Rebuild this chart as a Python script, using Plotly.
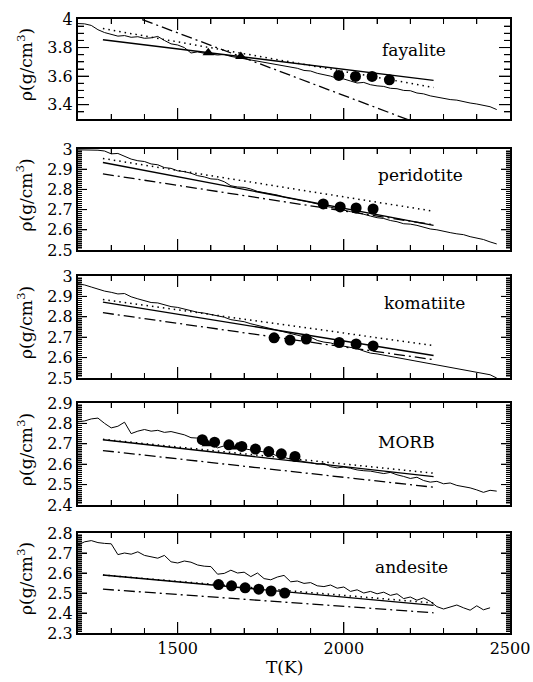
import plotly.graph_objects as go

# ---------------- data ----------------
T_MD = [1200, 1220, 1240, 1260, 1280, 1300, 1320, 1340, 1360, 1380,
        1400, 1420, 1440, 1460, 1480, 1500, 1520, 1540, 1560, 1580,
        1600, 1620, 1640, 1660, 1680, 1700, 1720, 1740, 1760, 1780,
        1800, 1820, 1840, 1860, 1880, 1900, 1920, 1940, 1960, 1980,
        2000, 2020, 2040, 2060, 2080, 2100, 2120, 2140, 2160, 2180,
        2200, 2220, 2240, 2260, 2280, 2300, 2320, 2340, 2360, 2380,
        2400, 2420, 2440, 2460]
T_MD_andesite = T_MD[:63]

md_fayalite = [3.968, 3.966, 3.955, 3.925, 3.905, 3.892, 3.880, 3.884, 3.872, 3.876,
               3.865, 3.868, 3.878, 3.850, 3.826, 3.818, 3.800, 3.762, 3.770, 3.760,
               3.755, 3.748, 3.752, 3.738, 3.730, 3.722, 3.715, 3.705, 3.698, 3.688,
               3.684, 3.672, 3.668, 3.655, 3.640, 3.636, 3.620, 3.612, 3.600, 3.585,
               3.580, 3.566, 3.552, 3.556, 3.540, 3.532, 3.528, 3.515, 3.512, 3.500,
               3.498, 3.482, 3.476, 3.462, 3.452, 3.445, 3.436, 3.432, 3.420, 3.412,
               3.405, 3.398, 3.386, 3.366]
md_peridotite = [2.996, 2.996, 2.996, 2.994, 2.990, 2.976, 2.978, 2.962, 2.950, 2.942,
                 2.938, 2.926, 2.922, 2.908, 2.904, 2.892, 2.888, 2.880, 2.868, 2.862,
                 2.852, 2.850, 2.838, 2.818, 2.812, 2.810, 2.802, 2.790, 2.784, 2.776,
                 2.772, 2.762, 2.756, 2.750, 2.742, 2.736, 2.728, 2.718, 2.712, 2.704,
                 2.698, 2.690, 2.686, 2.676, 2.668, 2.660, 2.656, 2.646, 2.640, 2.630,
                 2.628, 2.622, 2.612, 2.604, 2.600, 2.592, 2.586, 2.580, 2.576, 2.566,
                 2.560, 2.552, 2.540, 2.530]
md_komatiite = [2.962, 2.956, 2.946, 2.935, 2.926, 2.920, 2.912, 2.914, 2.898, 2.888,
                2.880, 2.870, 2.868, 2.858, 2.850, 2.846, 2.838, 2.832, 2.822, 2.818,
                2.812, 2.806, 2.798, 2.786, 2.780, 2.776, 2.766, 2.758, 2.748, 2.740,
                2.732, 2.726, 2.718, 2.710, 2.702, 2.700, 2.684, 2.676, 2.672, 2.662,
                2.656, 2.650, 2.644, 2.632, 2.622, 2.618, 2.612, 2.606, 2.602, 2.596,
                2.590, 2.584, 2.578, 2.572, 2.566, 2.558, 2.554, 2.548, 2.540, 2.534,
                2.528, 2.522, 2.516, 2.500]
md_morb = [2.808, 2.812, 2.822, 2.826, 2.800, 2.778, 2.786, 2.806, 2.750, 2.762,
           2.770, 2.762, 2.766, 2.756, 2.760, 2.752, 2.744, 2.730, 2.728, 2.726,
           2.700, 2.680, 2.690, 2.686, 2.688, 2.676, 2.670, 2.666, 2.660, 2.654,
           2.640, 2.634, 2.624, 2.620, 2.612, 2.608, 2.600, 2.604, 2.588, 2.582,
           2.586, 2.580, 2.572, 2.568, 2.566, 2.560, 2.554, 2.560, 2.548, 2.540,
           2.530, 2.536, 2.520, 2.512, 2.516, 2.504, 2.508, 2.496, 2.490, 2.484,
           2.474, 2.462, 2.472, 2.468]
md_andesite = [2.740, 2.756, 2.762, 2.752, 2.748, 2.746, 2.692, 2.700, 2.694, 2.706,
               2.688, 2.680, 2.674, 2.688, 2.656, 2.650, 2.660, 2.654, 2.640, 2.634,
               2.632, 2.594, 2.598, 2.614, 2.600, 2.604, 2.582, 2.600, 2.572, 2.566,
               2.580, 2.588, 2.556, 2.560, 2.548, 2.552, 2.536, 2.532, 2.540, 2.524,
               2.530, 2.508, 2.516, 2.500, 2.508, 2.496, 2.504, 2.488, 2.496, 2.472,
               2.480, 2.464, 2.476, 2.458, 2.432, 2.420, 2.430, 2.440, 2.426, 2.414,
               2.436, 2.416, 2.426]

# straight model lines (start, end)
T_LINE = [1275, 2270]
solid_fayalite = [3.855, 3.570]
dotted_fayalite = [3.933, 3.521]
dashdot_fayalite = [4.100, 3.228]
solid_peridotite = [2.933, 2.622]
dotted_peridotite = [2.953, 2.692]
dashdot_peridotite = [2.877, 2.625]
solid_komatiite = [2.872, 2.610]
dotted_komatiite = [2.885, 2.659]
dashdot_komatiite = [2.820, 2.590]
solid_morb = [2.720, 2.539]
dotted_morb = [2.722, 2.556]
dashdot_morb = [2.667, 2.487]
solid_andesite = [2.590, 2.438]
dotted_andesite = [2.590, 2.450]
dashdot_andesite = [2.519, 2.401]

# experimental points (circles)
exp_T_fayalite = [1985, 2035, 2085, 2137]
exp_rho_fayalite = [3.605, 3.598, 3.598, 3.574]
exp_T_peridotite = [1938, 1989, 2037, 2088]
exp_rho_peridotite = [2.728, 2.713, 2.708, 2.703]
exp_T_komatiite = [1790, 1838, 1887, 1986, 2037, 2088]
exp_rho_komatiite = [2.697, 2.686, 2.691, 2.674, 2.667, 2.657]
exp_T_morb = [1574, 1611, 1654, 1693, 1734, 1774, 1812, 1853]
exp_rho_morb = [2.720, 2.708, 2.695, 2.687, 2.674, 2.662, 2.651, 2.638]
exp_T_andesite = [1623, 1662, 1703, 1744, 1781, 1822]
exp_rho_andesite = [2.542, 2.536, 2.526, 2.519, 2.510, 2.500]

# triangles
tri_T_fayalite = [1592, 1690]
tri_rho_fayalite = [3.763, 3.737]
tri_T_morb = [1589, 1679]
tri_rho_morb = [2.700, 2.684]

names = ["fayalite", "peridotite", "komatiite", "MORB", "andesite"]
y_ranges = [[3.3, 4.0], [2.5, 3.0], [2.5, 3.0], [2.4, 2.9], [2.3, 2.8]]
label_pos = [(2211, 3.78), (2230, 2.869), (2242, 2.867), (2190, 2.711), (2205, 2.632)]

# ---------------- figure ----------------
W, H = 533, 682
PX_LEFT, PX_RIGHT = 78, 510
panel_px = [(19, 119), (149, 250), (276, 378), (403, 505), (533, 633)]

FONT = "DejaVu Serif"
fig = go.Figure()

panels = [
    (T_MD, md_fayalite, solid_fayalite, dotted_fayalite, dashdot_fayalite,
     exp_T_fayalite, exp_rho_fayalite, tri_T_fayalite, tri_rho_fayalite),
    (T_MD, md_peridotite, solid_peridotite, dotted_peridotite, dashdot_peridotite,
     exp_T_peridotite, exp_rho_peridotite, None, None),
    (T_MD, md_komatiite, solid_komatiite, dotted_komatiite, dashdot_komatiite,
     exp_T_komatiite, exp_rho_komatiite, None, None),
    (T_MD, md_morb, solid_morb, dotted_morb, dashdot_morb,
     exp_T_morb, exp_rho_morb, tri_T_morb, tri_rho_morb),
    (T_MD_andesite, md_andesite, solid_andesite, dotted_andesite, dashdot_andesite,
     exp_T_andesite, exp_rho_andesite, None, None),
]

shapes = []
tick_line = dict(color="black", width=1)

for i, (tmd, md, sol, dot, dd, eT, eR, tT, tR) in enumerate(panels):
    k = "" if i == 0 else str(i + 1)
    xa, ya = "x" + k, "y" + k
    fig.add_trace(go.Scatter(x=tmd, y=md, mode="lines", xaxis=xa, yaxis=ya,
                             line=dict(color="black", width=1), showlegend=False))
    fig.add_trace(go.Scatter(x=T_LINE, y=sol, mode="lines", xaxis=xa, yaxis=ya,
                             line=dict(color="black", width=1.4), showlegend=False))
    fig.add_trace(go.Scatter(x=T_LINE, y=dot, mode="lines", xaxis=xa, yaxis=ya,
                             line=dict(color="black", width=1.5, dash="1.5px,4px"),
                             showlegend=False))
    fig.add_trace(go.Scatter(x=T_LINE, y=dd, mode="lines", xaxis=xa, yaxis=ya,
                             line=dict(color="black", width=1.3, dash="11px,4px,2px,4px"),
                             showlegend=False))
    fig.add_trace(go.Scatter(x=eT, y=eR, mode="markers", xaxis=xa, yaxis=ya,
                             marker=dict(color="black", size=11, symbol="circle"),
                             showlegend=False))
    if tT is not None:
        fig.add_trace(go.Scatter(x=tT, y=tR, mode="markers", xaxis=xa, yaxis=ya,
                                 marker=dict(color="black", size=10, symbol="triangle-up"),
                                 showlegend=False))

    top, bot = panel_px[i]
    ph = bot - top
    pw = PX_RIGHT - PX_LEFT
    fine = i > 0
    y_major_len = 9 if fine else 11
    y_minor_len = 4 if fine else 6

    fig.layout["xaxis" + k] = dict(
        domain=[PX_LEFT / W, PX_RIGHT / W], range=[1200, 2500], anchor=ya,
        automargin=False, dtick=500, tick0=0,
        ticks="inside", ticklen=11, tickwidth=1, tickcolor="black",
        showticklabels=(i == 4), showline=True, linecolor="black", linewidth=2,
        mirror="ticks", showgrid=False, zeroline=False,
        minor=dict(dtick=100, tick0=0, ticks="inside", ticklen=5,
                   tickwidth=1, tickcolor="black", showgrid=False),
        tickfont=dict(family=FONT, size=16, color="black"))
    fig.layout["yaxis" + k] = dict(
        domain=[1 - bot / H, 1 - top / H], range=y_ranges[i], anchor=xa,
        automargin=False, dtick=(0.1 if fine else 0.2), tick0=0,
        ticks="inside", ticklen=y_major_len, tickwidth=1, tickcolor="black",
        showline=True, linecolor="black", linewidth=2, mirror="ticks",
        showgrid=False, zeroline=False,
        minor=dict(dtick=(0.01 if fine else 0.05), tick0=0,
                   ticks="inside", ticklen=y_minor_len, tickwidth=1,
                   tickcolor="black", showgrid=False),
        tickfont=dict(family=FONT, size=16, color="black"))

    # tick marks on all four sides, placed through the axes' own scales
    for j in range(1, 13):
        tv = 1200 + 100 * j
        frac = (11 if tv % 500 == 0 else 5) / ph
        shapes.append(dict(type="line", xref=xa, yref=ya + " domain",
                           x0=tv, x1=tv, y0=0, y1=frac, line=tick_line))
        shapes.append(dict(type="line", xref=xa, yref=ya + " domain",
                           x0=tv, x1=tv, y0=1 - frac, y1=1, line=tick_line))
    lo = y_ranges[i][0]
    if fine:
        yvals = [(round(lo + 0.01 * j, 3), j % 10 == 0) for j in range(1, 50)]
    else:
        yvals = [(round(lo + 0.05 * j, 3), j % 4 == 2) for j in range(1, 14)]
    for tv, is_major in yvals:
        frac = (y_major_len if is_major else y_minor_len) / pw
        shapes.append(dict(type="line", xref=xa + " domain", yref=ya,
                           x0=0, x1=frac, y0=tv, y1=tv, line=tick_line))
        shapes.append(dict(type="line", xref=xa + " domain", yref=ya,
                           x0=1 - frac, x1=1, y0=tv, y1=tv, line=tick_line))

    fig.add_annotation(x=label_pos[i][0], y=label_pos[i][1], xref=xa, yref=ya,
                       text=names[i], showarrow=False,
                       font=dict(family=FONT, size=17, color="black"))
    fig.add_annotation(x=25 / W, y=1 - ((top + bot) / 2 - 4) / H,
                       xref="paper", yref="paper", text="ρ(g/cm<sup>3</sup>)",
                       textangle=-90, showarrow=False, xanchor="center", yanchor="middle",
                       font=dict(family=FONT, size=17, color="black"))

fig.add_annotation(x=1822, y=1 - 667 / H, xref="x5", yref="paper", text="T(K)",
                   showarrow=False, xanchor="center", yanchor="middle",
                   font=dict(family=FONT, size=17, color="black"))

fig.update_layout(width=W, height=H, margin=dict(l=0, r=0, t=0, b=0, autoexpand=False),
                  paper_bgcolor="white", plot_bgcolor="white", showlegend=False,
                  shapes=shapes)

fig.write_html("out.html")
